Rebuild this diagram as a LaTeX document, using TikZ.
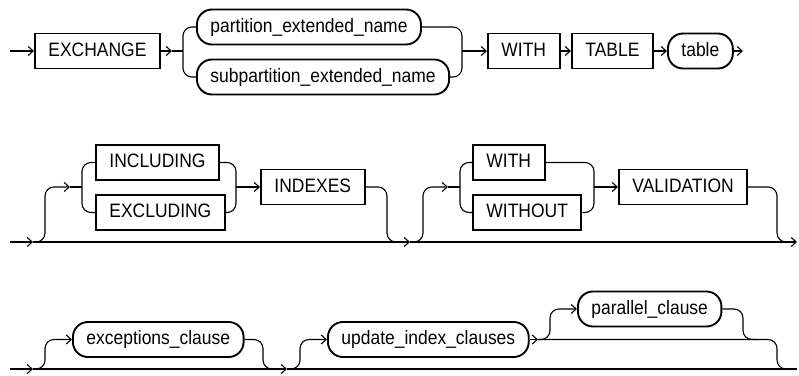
\documentclass[tikz,border=0pt]{standalone}
\usepackage{fontspec}
\setmainfont{Liberation Sans}
\newfontfamily\diafont[FakeStretch=0.9]{Liberation Sans}
\usetikzlibrary{arrows.meta}
\begin{document}
\begin{tikzpicture}[x=1pt,y=-1pt,
  conn/.style={line width=1.1pt, rounded corners=9pt},
  arr/.style={conn, -{Straight Barb[length=5pt,width=9pt]}},
  kw/.style={draw, line width=1.9pt, rectangle, inner xsep=13.5pt, inner ysep=0pt,
    minimum height=35pt, text height=13.8pt, text depth=3.6pt,
    font=\diafont\fontsize{19.4}{22}\selectfont, anchor=west},
  nt/.style={kw, rounded corners=15pt}]
\useasboundingbox (0,0) rectangle (799,375);

% ---------- row 1 ----------
\coordinate (s1) at (10,51);
\node[kw] (exch) at (34,51) {EXCHANGE};
\coordinate (a1) at (172,51);
\coordinate (j1) at (183,51);
\node[nt] (part) at (196,27) {partition\_extended\_name};
\node[nt] (sub) at (196,77) {subpartition\_extended\_name};
\coordinate (m1) at (462,51);
\node[kw] (with1) at (487,51) {WITH};
\node[kw] (tablekw) at (571,51) {TABLE};
\node[nt] (tbl) at (667,51) {table};
\coordinate (e1) at (743,51);

\draw[arr] (s1) -- (exch.west);
\draw[arr] (exch.east) -- (a1);
\draw[conn] (a1) -- (j1);
\draw[conn] (j1) |- (part.west);
\draw[conn] (j1) |- (sub.west);
\draw[conn] (part.east) -| (m1);
\draw[conn] (sub.east) -| (m1);
\draw[arr] (m1) -- (with1.west);
\draw[arr] (with1.east) -- (tablekw.west);
\draw[arr] (tablekw.east) -- (tbl.west);
\draw[arr] (tbl.east) -- (e1);

% ---------- row 2 ----------
\coordinate (s2) at (10,242);
\coordinate (a2) at (33,242);
\coordinate (b2) at (410,242);
\coordinate (e2) at (797,242);
\coordinate (u2) at (45,187);
\coordinate (p2) at (70,187);
\coordinate (j2) at (82,187);
\node[kw] (incl) at (95,162.5) {INCLUDING};
\node[kw] (excl) at (95,212.5) {EXCLUDING};
\coordinate (m2) at (236,187);
\node[kw] (idx) at (260,187) {INDEXES};
\coordinate (d2) at (387,242);
\coordinate (d2e) at (400,242);

\draw[arr] (s2) -- (a2);
\draw[arr] (a2) -- (b2);
\draw[arr] (b2) -- (e2);
\draw[arr] (a2) -| (u2) -- (p2);
\draw[conn] (p2) -- (j2);
\draw[conn] (j2) |- (incl.west);
\draw[conn] (j2) |- (excl.west);
\draw[conn] (incl.east) -| (m2);
\draw[conn] (excl.east) -| (m2);
\draw[arr] (m2) -- (idx.west);
\draw[conn] (idx.east) -| (d2) -- (d2e);

\coordinate (u3) at (423,187);
\coordinate (p3) at (448,187);
\coordinate (j3) at (460,187);
\node[kw] (with2) at (472,162.5) {WITH};
\node[kw] (without) at (472,212.5) {WITHOUT};
\coordinate (m3) at (594,187);
\node[kw] (val) at (618,187) {VALIDATION};
\coordinate (d3) at (777,242);
\coordinate (d3e) at (789,242);

\draw[arr] (b2) -| (u3) -- (p3);
\draw[conn] (p3) -- (j3);
\draw[conn] (j3) |- (with2.west);
\draw[conn] (j3) |- (without.west);
\draw[conn] (with2.east) -| (m3);
\draw[conn] (without.east) -| (m3);
\draw[arr] (m3) -- (val.west);
\draw[conn] (val.east) -| (d3) -- (d3e);

% ---------- row 3 ----------
\coordinate (s4) at (10,369);
\coordinate (a4) at (33,369);
\coordinate (b4) at (287,369);
\coordinate (e4) at (797,369);
\coordinate (u4) at (45,339.5);
\node[nt] (exc) at (72,339.5) {exceptions\_clause};
\coordinate (d4) at (263,369);
\coordinate (d4e) at (276,369);
\coordinate (u5) at (300,339.5);
\node[nt] (upd) at (327,339.5) {update\_index\_clauses};
\coordinate (a5) at (538,339.5);
\coordinate (u6) at (550,309);
\node[nt] (par) at (577,309) {parallel\_clause};
\coordinate (d6) at (743,339.5);
\coordinate (d6e) at (757,339.5);
\coordinate (d7) at (777,369);
\coordinate (d7e) at (790,369);

\draw[arr] (s4) -- (a4);
\draw[arr] (a4) -- (b4);
\draw[conn] (b4) -- (e4);
\draw[arr] (a4) -| (u4) -- (exc.west);
\draw[conn] (exc.east) -| (d4) -- (d4e);
\draw[arr] (b4) -| (u5) -- (upd.west);
\draw[arr] (upd.east) -- (a5);
\draw[arr] (a5) -| (u6) -- (par.west);
\draw[conn] (par.east) -| (d6) -- (d6e);
\draw[conn] (a5) -| (d7) -- (d7e);
\end{tikzpicture}
\end{document}
